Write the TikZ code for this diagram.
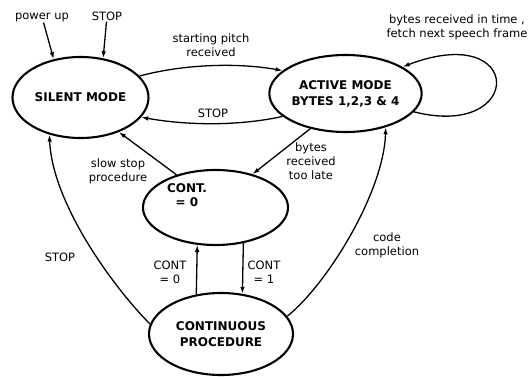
\documentclass[tikz,border=0pt]{standalone}
\usepackage{fontspec}
\setmainfont{DejaVu Sans}
\usetikzlibrary{shapes.geometric,arrows.meta}

\begin{document}
\begin{tikzpicture}[x=1pt,y=-1pt,
		state/.style={draw,ellipse,line width=2.1pt,inner sep=0pt,align=center,font=\fontsize{12}{16}\selectfont\bfseries},
		statetext/.style={align=center,font=\fontsize{12}{14}\selectfont\bfseries},
		lbl/.style={align=center,inner sep=1pt,font=\fontsize{11.5}{14}\selectfont},
		conn/.style={line width=1.3pt,->},
		>={Latex[length=7pt,width=4.5pt]}]
	\useasboundingbox (0,0) rectangle (531,377);
	% states
	\node[state,minimum width=136pt,minimum height=81pt] (silent) at (80.5,97.5) {SILENT MODE};
	\node[state,minimum width=145pt,minimum height=77pt] (active) at (345.5,93.5) {ACTIVE MODE\\BYTES 1,2,3 \& 4};
	\node[state,minimum width=145pt,minimum height=75pt] (cont) at (215.5,207.5) {};
	\node[statetext] (conttext) at (187,195) {CONT.\\= 0};
	\node[state,minimum width=144pt,minimum height=82pt] (contproc) at (221,334) {CONTINUOUS\\PROCEDURE};
	% labels
	\node[lbl] (pwr) at (42,17) {power up};
	\node[lbl] (stoptop) at (107,16) {STOP};
	\node[lbl] (pitch) at (211,45) {starting pitch\\received};
	\node[lbl] (stopmid) at (213,113) {STOP};
	\node[lbl] (slow) at (118,171) {slow stop\\procedure};
	\node[lbl] (late) at (311,161) {bytes\\received\\too late};
	\node[lbl] (czero) at (170,272) {CONT\\= 0};
	\node[lbl] (cone) at (264,272) {CONT\\= 1};
	\node[lbl] (stopleft) at (60,257) {STOP};
	\node[lbl] (code) at (387,245) {code\\completion};
	\node[lbl] (intime) at (457,27) {bytes received in time ,\\fetch next speech frame};
	% transitions
	\path[conn]
	(pwr) edge (silent.125)
	(stoptop) edge (silent.60)
	(cont.140) edge (silent.-42)
	(active.225) edge (cont.42)
	(contproc.122) edge (cont.-116)
	(cont.-52.5) edge (contproc.62);
	\draw[conn] (silent.20) .. controls +(45,-12) and +(-45,-8) .. (active.160);
	\draw[conn] (active.200) .. controls +(-45,10) and +(45,8) .. (silent.-18);
	\draw[conn] (active.-15) .. controls (525,140) and (525,20) .. (active.25);
	\draw[conn] (contproc.172) .. controls +(-35,-35) and +(3,70) .. (silent.-130);
	\draw[conn] (contproc.15) .. controls +(40,-32) and +(-2,65) .. (active.-40);
\end{tikzpicture}
\end{document}
